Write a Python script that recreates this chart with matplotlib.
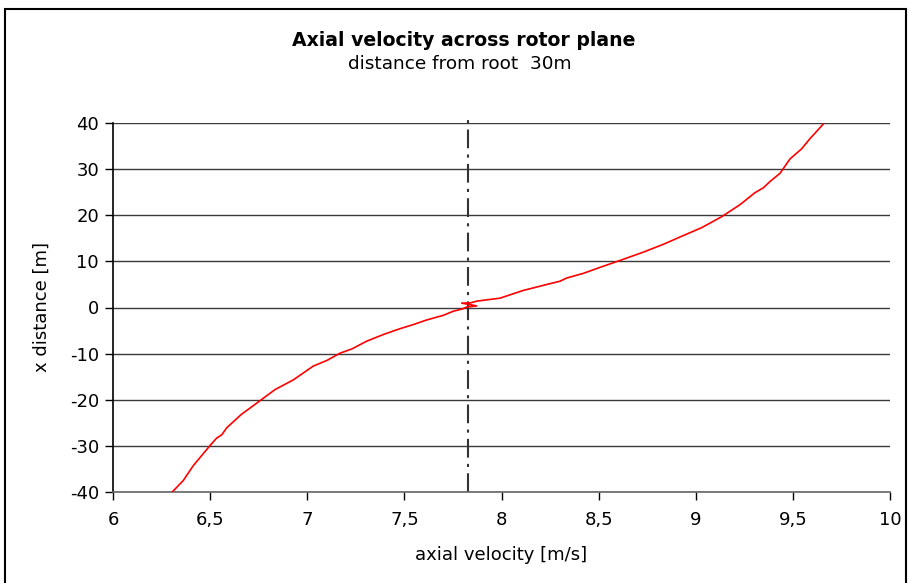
import matplotlib
matplotlib.use("Agg")
import matplotlib.pyplot as plt
from matplotlib.patches import Rectangle
from matplotlib.ticker import FuncFormatter

# Axial velocity profile across the rotor plane (30 m from root)
velocity = [6.305, 6.362, 6.413, 6.500, 6.534, 6.560, 6.585, 6.660, 6.757,
            6.834, 6.928, 7.031, 7.100, 7.169, 7.229, 7.306, 7.392, 7.477,
            7.546, 7.615, 7.700, 7.752, 7.800, 7.820, 7.872, 7.795, 7.840,
            7.872, 7.923, 7.992, 8.044, 8.112, 8.215, 8.301, 8.336, 8.421,
            8.507, 8.610, 8.730, 8.833, 8.936, 9.030, 9.134, 9.228, 9.305,
            9.348, 9.382, 9.434, 9.485, 9.545, 9.588, 9.657]
distance = [-40.0, -37.5, -34.3, -29.9, -28.3, -27.6, -26.1, -23.2, -20.2,
            -17.8, -15.7, -12.7, -11.5, -9.9, -9.0, -7.3, -5.85, -4.6,
            -3.7, -2.7, -1.7, -0.8, -0.3, 0.1, 0.35, 0.95, 1.0,
            1.37, 1.66, 2.02, 2.75, 3.7, 4.8, 5.7, 6.4, 7.4,
            8.7, 10.2, 12.0, 13.7, 15.6, 17.3, 19.7, 22.3, 24.9,
            25.95, 27.3, 29.1, 32.2, 34.4, 36.6, 39.8]

rotor_velocity = 7.83
rotor_span = [-40.0, 42.0]

x_ticks = [6, 6.5, 7, 7.5, 8, 8.5, 9, 9.5, 10]
y_ticks = [-40, -30, -20, -10, 0, 10, 20, 30, 40]

plt.rcParams['font.family'] = ['DejaVu Sans']

fig = plt.figure(figsize=(9.10, 5.83), dpi=100)
ax = fig.add_axes([113 / 910, 91 / 583, 777 / 910, 369 / 583])

# figure frame
fig.patches.append(Rectangle((5 / 910, -0.05), 901 / 910, 1.05 - 9 / 583,
                             transform=fig.transFigure, fill=False,
                             edgecolor='black', linewidth=1.5, zorder=0))

for yt in y_ticks:
    ax.axhline(yt, color='#3a3a3a', linewidth=1.0, zorder=1)

ax.plot([rotor_velocity, rotor_velocity], rotor_span, color='#333333',
        linewidth=1.5, dashes=(9, 3, 1.5, 3), clip_on=False, zorder=2)
ax.plot(velocity, distance, color='#ff0000', linewidth=1.2, zorder=3)

ax.set_xlim(6, 10)
ax.set_ylim(-40, 40)
ax.set_xticks(x_ticks)
ax.set_yticks(y_ticks)
ax.xaxis.set_major_formatter(FuncFormatter(lambda v, p: ('%g' % v).replace('.', ',')))
ax.yaxis.set_major_formatter(FuncFormatter(lambda v, p: '%d' % v))

for side in ('top', 'right'):
    ax.spines[side].set_visible(False)
ax.spines['left'].set_color('black')
ax.spines['left'].set_linewidth(1.2)
ax.spines['bottom'].set_color('#666666')
ax.spines['bottom'].set_linewidth(1.2)
ax.tick_params(axis='both', direction='out', length=6, width=1.0,
               labelsize=13, colors='black')
ax.tick_params(axis='x', pad=8)
ax.tick_params(axis='y', pad=4)

ax.set_xlabel('axial velocity [m/s]', fontsize=13, labelpad=12)
ax.set_ylabel('x distance [m]', fontsize=13, labelpad=14)

fig.text(464 / 910, 1 - 40 / 583, 'Axial velocity across rotor plane',
         ha='center', va='center', fontsize=13.6, fontweight='bold')
fig.text(460 / 910, 1 - 64 / 583, 'distance from root  30m',
         ha='center', va='center', fontsize=13.3)

fig.savefig('out.png', dpi=100)
